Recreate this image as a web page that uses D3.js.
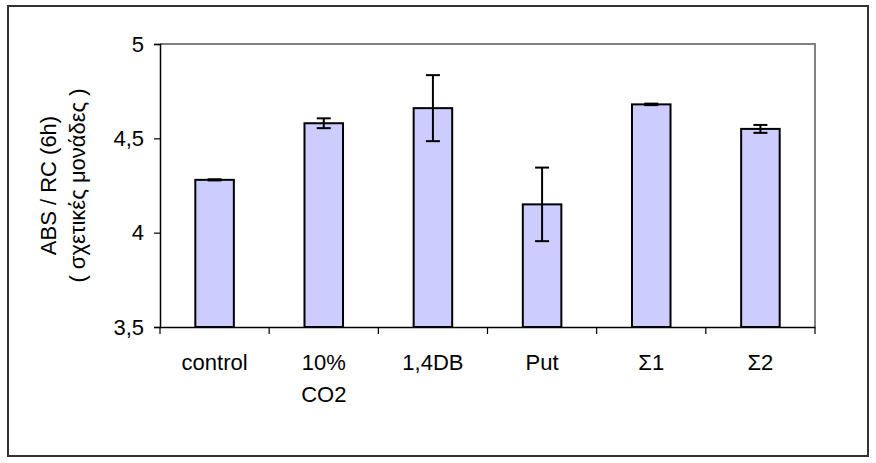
<!DOCTYPE html>
<html>
<head>
<meta charset="utf-8">
<script src="https://cdn.jsdelivr.net/npm/d3@7"></script>
<style>
  body { margin: 0; background: #fff; }
  svg { display: block; font-family: "Liberation Sans", Arial, sans-serif; }
</style>
</head>
<body>
<svg id="chart" width="876" height="463"></svg>
<script>
// ── Data ──
const categories = ['control', '10% CO2', '1,4DB', 'Put', 'Σ1', 'Σ2'];
const catLines   = [['control'], ['10%', 'CO2'], ['1,4DB'], ['Put'], ['Σ1'], ['Σ2']];
const values     = [4.28, 4.58, 4.66, 4.15, 4.68, 4.55];
const errors     = [0.003, 0.026, 0.175, 0.195, 0.004, 0.021];
const yTicks     = [3.5, 4, 4.5, 5];

const plot = { left: 160, top: 44, right: 815, bottom: 327 };
const fontSize = 22;
const svg = d3.select('#chart');

// outer frame
svg.append('rect')
  .attr('x', 8).attr('y', 6)
  .attr('width', 860).attr('height', 450)
  .attr('fill', 'none')
  .attr('stroke', '#333')
  .attr('stroke-width', 2);

const x = d3.scaleBand()
  .domain(categories)
  .range([plot.left, plot.right]);

const y = d3.scaleLinear()
  .domain([3.5, 5])
  .range([plot.bottom, plot.top]);

// top and right plot border
svg.append('path')
  .attr('d', `M${plot.left},${plot.top}H${plot.right}V${plot.bottom}`)
  .attr('fill', 'none')
  .attr('stroke', '#808080')
  .attr('stroke-width', 2);

// Bars
const barW = x.bandwidth() * 0.353;
svg.selectAll('.bar')
  .data(values)
  .enter()
  .append('rect')
  .attr('class', 'bar')
  .attr('x', (d, i) => x(categories[i]) + (x.bandwidth() - barW) / 2)
  .attr('y', d => y(d))
  .attr('width', barW)
  .attr('height', d => y(3.5) - y(d))
  .attr('fill', '#ccccff')
  .attr('stroke', '#000')
  .attr('stroke-width', 2);

// Error bars
const errG = svg.append('g')
  .attr('stroke', '#000')
  .attr('stroke-width', 2)
  .attr('fill', 'none');
values.forEach((v, i) => {
  const cx = x(categories[i]) + x.bandwidth() / 2;
  const y1 = y(v + errors[i]);
  const y2 = y(v - errors[i]);
  errG.append('line').attr('x1', cx).attr('x2', cx).attr('y1', y1).attr('y2', y2);
  errG.append('line').attr('x1', cx - 7).attr('x2', cx + 7).attr('y1', y1).attr('y2', y1);
  errG.append('line').attr('x1', cx - 7).attr('x2', cx + 7).attr('y1', y2).attr('y2', y2);
});

// Y axis
const yAxis = svg.append('g')
  .attr('transform', `translate(${plot.left},0)`)
  .call(d3.axisLeft(y).tickValues(yTicks).tickSize(6).tickPadding(10)
    .tickFormat(d => String(d).replace('.', ',')));
yAxis.select('.domain').attr('stroke', '#000').attr('stroke-width', 1.5);
yAxis.selectAll('line').attr('stroke', '#000').attr('stroke-width', 1.2);
yAxis.selectAll('text')
  .attr('fill', '#000')
  .style('font-size', fontSize + 'px')
  .style('font-family', '"Liberation Sans", Arial, sans-serif');

// X axis
const xAxis = svg.append('g')
  .attr('transform', `translate(0,${plot.bottom})`)
  .call(d3.axisBottom(x).tickSize(0).tickFormat(''));
xAxis.select('.domain').attr('stroke', '#000').attr('stroke-width', 1.5);
xAxis.selectAll('.tick').remove();

// category boundary ticks
const bounds = categories.map(c => x(c)).concat([plot.right]);
svg.selectAll('.xtick')
  .data(bounds)
  .enter()
  .append('line')
  .attr('x1', d => d).attr('x2', d => d)
  .attr('y1', plot.bottom).attr('y2', plot.bottom + 7)
  .attr('stroke', '#000')
  .attr('stroke-width', 1.2);

// category labels
catLines.forEach((lines, i) => {
  const cx = x(categories[i]) + x.bandwidth() / 2;
  const t = svg.append('text')
    .attr('x', cx)
    .attr('y', 370)
    .attr('text-anchor', 'middle')
    .attr('fill', '#000')
    .style('font-size', fontSize + 'px');
  lines.forEach((s, j) => {
    t.append('tspan')
      .attr('x', cx)
      .attr('dy', j === 0 ? 0 : 32)
      .text(s);
  });
});

// Y axis title
const yTitle = svg.append('text')
  .attr('transform', `translate(56,${(plot.top + plot.bottom) / 2}) rotate(-90)`)
  .attr('text-anchor', 'middle')
  .attr('fill', '#000')
  .style('font-size', fontSize + 'px');
yTitle.append('tspan').attr('x', 0).attr('dy', 0).text('ABS / RC (6h)');
yTitle.append('tspan').attr('x', 0).attr('dy', 29).text('( σχετικές μονάδες )');
</script>
</body>
</html>
